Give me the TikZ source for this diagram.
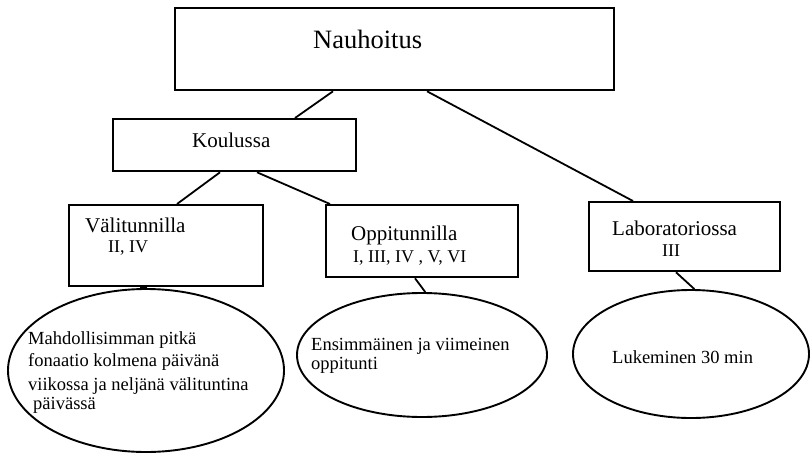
\documentclass[tikz,border=0pt]{standalone}
\usepackage{fontspec}
\setmainfont{Liberation Serif}
\usetikzlibrary{shapes.geometric,calc}
\tikzset{
  boxnode/.style={draw, line width=2.3pt, rectangle, inner sep=0pt, anchor=north west},
  ovalnode/.style={draw, line width=1.9pt, ellipse, inner sep=0pt},
  link/.style={line width=1.8pt},
  lbl/.style={inner sep=0pt, anchor=base west},
  bigtxt/.style={font=\fontsize{26.5}{30}\selectfont},
  boxtxt/.style={font=\fontsize{21}{24}\selectfont},
  numtxt/.style={font=\fontsize{18}{21}\selectfont},
  ovaltxt/.style={font=\fontsize{18.5}{22}\selectfont, align=left},
}
\begin{document}
\begin{tikzpicture}[x=1pt, y=-1pt]
\useasboundingbox (0,0) rectangle (810,455);
% boxes
\node[boxnode, minimum width=439pt, minimum height=82pt] (nau) at (174,7) {};
\node[boxnode, minimum width=243pt, minimum height=52pt] (kou) at (112,118) {};
\node[boxnode, minimum width=194pt, minimum height=81pt] (val) at (68,204) {};
\node[boxnode, minimum width=192pt, minimum height=72pt] (opp) at (325,204) {};
\node[boxnode, minimum width=191pt, minimum height=69pt] (lab) at (588,201) {};
% ellipses
\node[ovalnode, minimum width=276pt, minimum height=163pt] (e1) at (146,370.5) {};
\node[ovalnode, minimum width=250pt, minimum height=124pt] (e2) at (422,355) {};
\node[ovalnode, minimum width=236pt, minimum height=128pt] (e3) at (691,354) {};
% texts
\node[lbl, bigtxt] (tnau) at (313,48) {Nauhoitus};
\node[lbl, boxtxt] (tkou) at (192,147) {Koulussa};
\node[lbl, boxtxt] (tval) at (85,232) {Välitunnilla};
\node[lbl, numtxt] (nval) at (108,252) {II, IV};
\node[lbl, boxtxt] (topp) at (351,240) {Oppitunnilla};
\node[lbl, numtxt] (nopp) at (353,262) {I, III, IV , V, VI};
\node[lbl, boxtxt] (tlab) at (612,235) {Laboratoriossa};
\node[lbl, numtxt] (nlab) at (662,256) {III};
\node[lbl, ovaltxt] (o1a) at (28,344) {Mahdollisimman pitkä};
\node[lbl, ovaltxt] (o1b) at (28,366) {fonaatio kolmena päivänä};
\node[lbl, ovaltxt] (o1c) at (28,390) {viikossa ja neljänä välituntina};
\node[lbl, ovaltxt] (o1d) at (33,409) {päivässä};
\node[lbl, ovaltxt] (o2a) at (311,350) {Ensimmäinen ja viimeinen};
\node[lbl, ovaltxt] (o2b) at (311,369) {oppitunti};
\node[lbl, ovaltxt] (o3a) at (612,363) {Lukeminen 30 min};
% connectors
\draw[link] ($(nau.south west)+(159,0)$) -- ($(kou.north west)+(183,0)$);
\draw[link] ($(nau.south west)+(253,0)$) -- ($(lab.north west)+(45,0)$);
\draw[link] ($(kou.south west)+(108,0)$) -- ($(val.north west)+(109,0)$);
\draw[link] ($(kou.south west)+(145,0)$) -- ($(opp.north west)+(5,0)$);
\draw[link] ($(val.south west)+(79,0)$) -- (e1.94);
\draw[link] ($(opp.south west)+(90,0)$) -- (e2.87);
\draw[link] ($(lab.south west)+(88,0)$) -- (e3.87);
\end{tikzpicture}
\end{document}
